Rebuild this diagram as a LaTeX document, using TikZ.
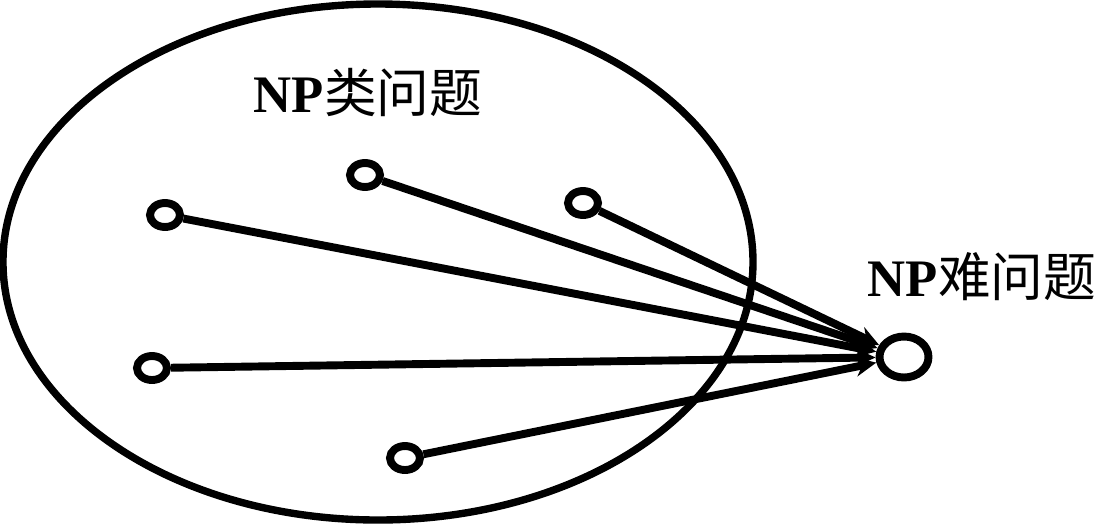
\documentclass[tikz,border=0pt]{standalone}
\usepackage{fontspec}
\setmainfont{Liberation Serif}
\newfontfamily\cjk{Noto Sans CJK SC}
\usetikzlibrary{arrows.meta, shapes.geometric}

\begin{document}
\begin{tikzpicture}[>={Stealth[length=12pt, width=11pt]}, x=0.02cm, y=-0.02cm,
        dot/.style={draw, ellipse, line width=4.5pt, inner sep=0pt, minimum width=0.6cm, minimum height=0.48cm},
        big/.style={draw, ellipse, line width=4.5pt, inner sep=0pt, minimum width=0.98cm, minimum height=0.82cm},
        lbl/.style={font=\fontsize{30}{36}\selectfont}]
        \useasboundingbox (0,0) rectangle (1102,525);
        % 集合
        \draw[line width=4.2pt] (378,262) ellipse [x radius=375, y radius=258];
        \node[lbl] (np) at (368,92) {\textbf{NP}{\cjk 类问题}};
        % 节点
        \node[dot] (a) at (165,215) {};
        \node[dot] (b) at (365,175) {};
        \node[dot] (c) at (583,203) {};
        \node[dot] (d) at (152,368) {};
        \node[dot] (e) at (405,458) {};
        \node[big] (h) at (904,357) {};
        \node[lbl] (nph) at (982,277) {\textbf{NP}{\cjk 难问题}};
    
        % 箭头
        \draw[->, line width=4.5pt] (a) -- (h);
        \draw[->, line width=4.5pt] (b) -- (h);
        \draw[->, line width=4.5pt] (c) -- (h);
        \draw[->, line width=4.5pt] (d) -- (h);
        \draw[->, line width=4.5pt] (e) -- (h);
    \end{tikzpicture}
\end{document}
